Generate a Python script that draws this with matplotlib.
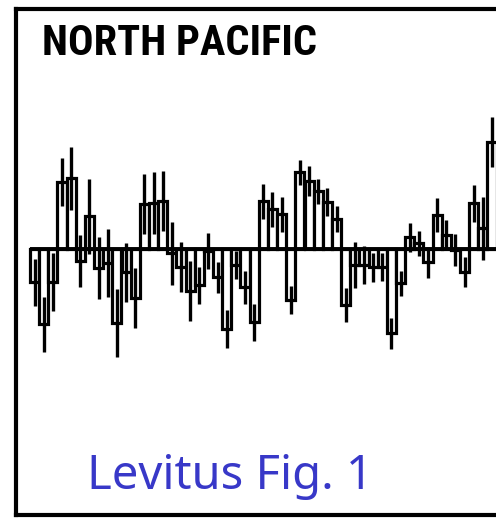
import matplotlib
matplotlib.use("Agg")
from matplotlib import pyplot as plt
import numpy as np

# yearly anomalies (arbitrary units) and their standard errors, 1948-1998
years = np.arange(1948, 1999)
anomaly = [-3.3, -7.5, -3.3, 6.7, 7.1, -1.2, 3.3, -1.9, -1.4, -7.4,
           -2.3, -4.9, 4.5, 4.6, 4.85, -0.4, -1.8, -4.2, -3.6, -0.2,
           -2.8, -8.0, -1.6, -3.8, -7.3, 4.8, 4.0, 3.5, -5.1, 7.7,
           6.8, 5.8, 4.7, 3.0, -5.6, -1.6, -1.6, -1.8, -1.8, -8.4,
           -3.4, 1.2, 0.6, -1.3, 3.4, 1.4, -0.1, -2.3, 4.6, 2.1, 10.7]
std_err = [2.35, 2.75, 2.9, 2.4, 3.15, 2.6, 3.75, 3.1, 3.4, 3.4,
           2.95, 3.0, 3.0, 3.1, 3.0, 3.15, 2.5, 3.0, 1.85, 1.8,
           1.55, 1.9, 1.4, 1.65, 1.85, 1.75, 1.75, 1.75, 1.4, 1.25,
           1.5, 1.25, 1.4, 1.3, 1.7, 2.3, 1.9, 1.45, 1.4, 1.55,
           1.25, 1.45, 1.25, 1.55, 1.7, 1.5, 1.6, 1.5, 1.85, 3.15, 2.5]

W, H = 496, 531
fig = plt.figure(figsize=(W / 100, H / 100), dpi=100)

# panel box runs off the right side of the figure
px_per_year = 9.15
ax_left, ax_top, ax_bottom = 16, 8.5, 515
ax_w = 1.25 * W
ax = fig.add_axes([ax_left / W, (H - ax_bottom) / H, ax_w / W, (ax_bottom - ax_top) / H])

x0 = 1947.5 - (30 - ax_left) / px_per_year
ax.set_xlim(x0, x0 + ax_w / px_per_year)
zero_px = 249
ax.set_ylim((zero_px - ax_bottom) / 10, (zero_px - ax_top) / 10)

ax.bar(years, anomaly, width=1.0, color="white", edgecolor="black",
       linewidth=2.3, zorder=2)
ax.errorbar(years, anomaly, yerr=std_err, fmt="none", ecolor="black",
            elinewidth=2.4, capsize=0, zorder=3)
ax.hlines(0, 1947.5, x0 + ax_w / px_per_year, color="black", linewidth=2.8, zorder=4)

for s in ax.spines.values():
    s.set_linewidth(3.0)
ax.set_xticks([])
ax.set_yticks([])

fig.text(42 / W, (H - 55) / H, "NORTH PACIFIC",
         family=["Roboto Condensed", "Open Sans Condensed", "Liberation Sans"],
         weight="bold", stretch="condensed",
         fontsize=30.5, va="baseline", ha="left")
fig.text(87 / W, (H - 489) / H, "Levitus Fig. 1", family="Noto Sans",
         fontsize=34, color="#3838c8", va="baseline", ha="left")

plt.savefig("out.png", dpi=100)
